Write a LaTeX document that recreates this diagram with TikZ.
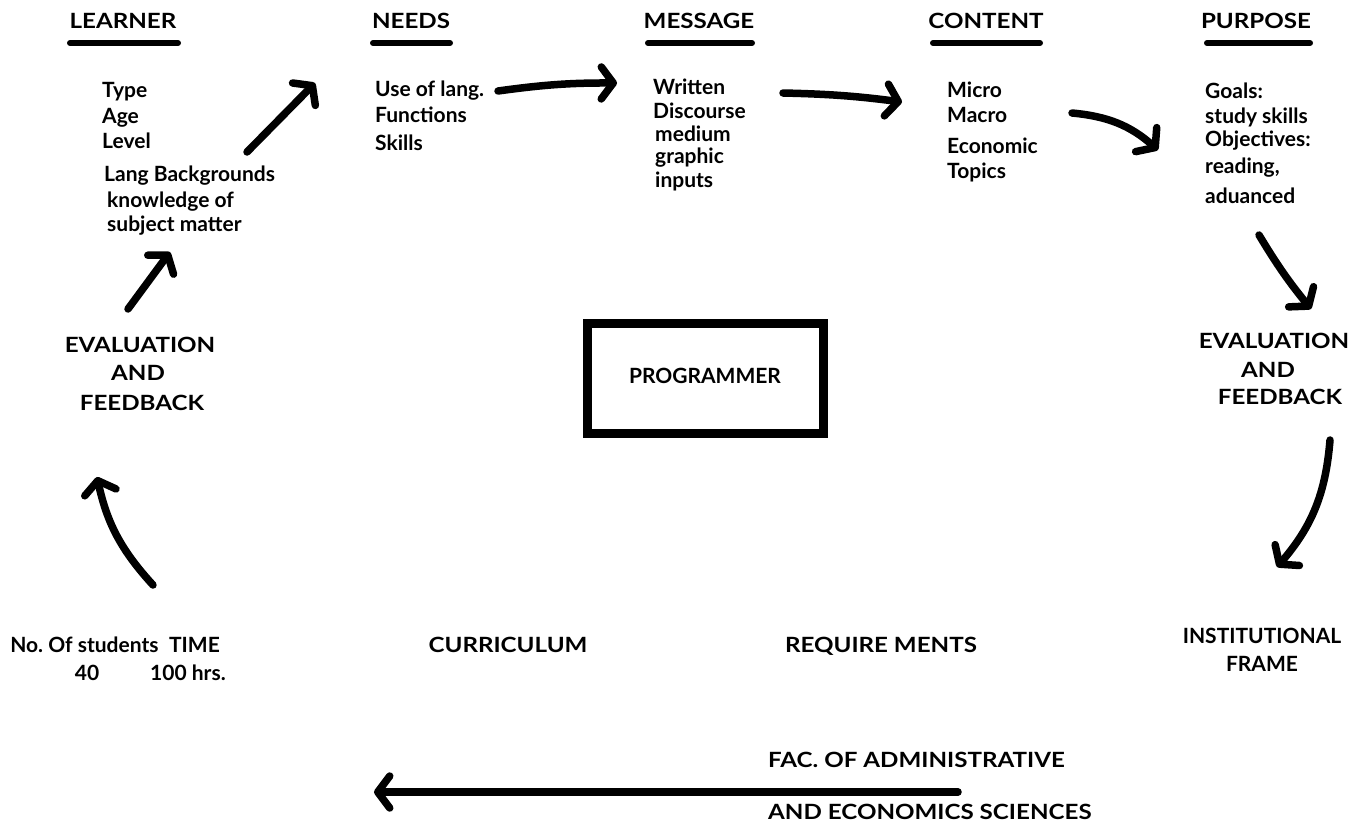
\documentclass[tikz,border=0pt]{standalone}
\usepackage{fontspec}
\setmainfont{Lato}
\newfontfamily\capfont{Lato}[FakeStretch=1.15]
\usetikzlibrary{arrows.meta}
\tikzset{
  txt/.style={font=\fontsize{21}{25}\selectfont\bfseries, inner sep=0pt, text height=15pt, text depth=4pt},
  capt/.style={font=\capfont\fontsize{21}{25}\selectfont\bfseries, inner sep=0pt, text height=15pt, text depth=4pt},
  lst/.style={txt, anchor=west},
  uline/.style={line width=6pt, line cap=round},
  arr/.style={line width=7.5pt, line cap=round, -{Straight Barb[length=12pt,width=32pt,round]}},
  prog/.style={draw, line width=9pt, minimum width=236pt, minimum height=110pt}
}
\begin{document}
\begin{tikzpicture}[x=1pt,y=-1pt]
\useasboundingbox (0,0) rectangle (1356,825);
% headers
\node[capt] (hLearner) at (123,23) {LEARNER};
\node[capt] (hNeeds) at (411,23) {NEEDS};
\node[capt] (hMessage) at (699,23) {MESSAGE};
\node[capt] (hContent) at (986,23) {CONTENT};
\node[capt] (hPurpose) at (1256,23) {PURPOSE};
\draw[uline] (70,43) -- (178,43);
\draw[uline] (373,43) -- (450,43);
\draw[uline] (648,43) -- (752,43);
\draw[uline] (933,43) -- (1040,43);
\draw[uline] (1207,43) -- (1310,43);
% learner list
\node[lst] (l1) at (102,92) {Type};
\node[lst] (l2) at (102,118) {Age};
\node[lst] (l3) at (102,143) {Level};
\node[lst] (l4) at (104,176) {Lang Backgrounds};
\node[lst] (l5) at (107,202) {knowledge of};
\node[lst] (l6) at (107,226) {subject matter};
% needs list
\node[lst] (n1) at (375,91) {Use of lang.};
\node[lst] (n2) at (375,117) {Functions};
\node[lst] (n3) at (375,145) {Skills};
% message list
\node[lst] (m1) at (653,89) {Written};
\node[lst] (m2) at (653,113) {Discourse};
\node[lst] (m3) at (655,136) {medium};
\node[lst] (m4) at (655,158) {graphic};
\node[lst] (m5) at (655,182) {inputs};
% content list
\node[lst] (c1) at (947,92) {Micro};
\node[lst] (c2) at (947,117) {Macro};
\node[lst] (c3) at (947,148) {Economic};
\node[lst] (c4) at (947,173) {Topics};
% purpose list
\node[lst] (p1) at (1205,93) {Goals:};
\node[lst] (p2) at (1205,118) {study skills};
\node[lst] (p3) at (1205,141) {Objectives:};
\node[lst] (p4) at (1205,168) {reading,};
\node[lst] (p5) at (1205,198) {aduanced};
% evaluation nodes
\node[capt] (evL1) at (140,347) {EVALUATION};
\node[capt] (evL2) at (138,375) {AND};
\node[capt] (evL3) at (142,405) {FEEDBACK};
\node[capt] (evR1) at (1274,343) {EVALUATION};
\node[capt] (evR2) at (1268,372) {AND};
\node[capt] (evR3) at (1280,399) {FEEDBACK};
% programmer
\node[prog, txt] (prog) at (705,378) {PROGRAMMER};
% bottom row
\node[txt] (nos) at (115,647) {No.\ Of students\enspace TIME};
\node[txt] (n40) at (87,675) {40};
\node[txt] (hrs) at (188,675) {100 hrs.};
\node[capt] (curr) at (508,647) {CURRICULUM};
\node[capt] (req) at (881,647) {REQUIRE MENTS};
\node[txt] (inst1) at (1262,638) {INSTITUTIONAL};
\node[txt] (inst2) at (1262,666) {FRAME};
\node[capt, anchor=west] (fac1) at (768,762) {FAC. OF ADMINISTRATIVE};
\node[capt, anchor=west] (fac2) at (768,814) {AND ECONOMICS SCIENCES};
% arrow endpoints
\coordinate (a1s) at (247,152); \coordinate (a1e) at (315,83);
\coordinate (a2s) at (498,91); \coordinate (a2e) at (617,83);
\coordinate (a3s) at (783,93); \coordinate (a3e) at (902,102);
\coordinate (a4s) at (1072,113); \coordinate (a4e) at (1158,150);
\coordinate (a5s) at (128,309); \coordinate (a5e) at (170,252);
\coordinate (a6s) at (153,585); \coordinate (a6e) at (97,477);
\coordinate (a7s) at (1259,235); \coordinate (a7e) at (1311,309);
\coordinate (a8s) at (1330,440); \coordinate (a8e) at (1277,567);
\coordinate (a9s) at (958,792); \coordinate (a9e) at (374,792);
\draw[arr] (a1s) -- (a1e);
\draw[arr] (a2s) to[bend left=4] (a2e);
\draw[arr] (a3s) to[bend left=3] (a3e);
\draw[arr] (a4s) to[bend left=18] (a4e);
\draw[arr] (a5s) -- (a5e);
\draw[arr] (a6s) to[bend left=15] (a6e);
\draw[arr] (a7s) to[bend right=4] (a7e);
\draw[arr] (a8s) to[bend left=18] (a8e);
\draw[arr] (a9s) -- (a9e);
\end{tikzpicture}
\end{document}
